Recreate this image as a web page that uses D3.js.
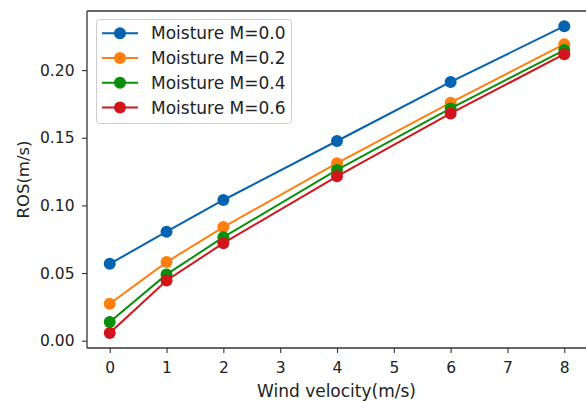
<!DOCTYPE html>
<html><head><meta charset="utf-8">
<script src="https://cdn.jsdelivr.net/npm/d3@7"></script>
<style>body{margin:0;background:#fff;}svg{display:block;font-family:"DejaVu Sans",sans-serif;}</style>
</head><body>
<svg id="c" width="586" height="401"></svg>
<script>
const windVelocity = [0, 1, 2, 4, 6, 8];
const seriesNames = ["Moisture M=0.0", "Moisture M=0.2", "Moisture M=0.4", "Moisture M=0.6"];
const rosM00 = [0.0568, 0.0806, 0.1040, 0.1476, 0.1913, 0.2325];
const rosM02 = [0.0273, 0.0581, 0.0840, 0.1312, 0.1759, 0.2192];
const rosM04 = [0.0138, 0.0490, 0.0765, 0.1262, 0.1717, 0.2148];
const rosM06 = [0.0057, 0.0445, 0.0721, 0.1215, 0.1680, 0.2118];
const xTicks = [0, 1, 2, 3, 4, 5, 6, 7, 8];
const yTicks = [0.00, 0.05, 0.10, 0.15, 0.20];
const colors = ["#0463ae", "#ff7f0e", "#0a8f0a", "#d2141c"];

const series = [rosM00, rosM02, rosM04, rosM06];
const svg = d3.select("#c");
const L = 87, R = 587, T = 11, B = 348;
const x = d3.scaleLinear().domain([-0.4, 8.4]).range([L, R]);
const y = d3.scaleLinear().domain([-0.0054, 0.2437]).range([B, T]);

const g = svg.append("g");
const line = d3.line().x((d,i)=>x(windVelocity[i])).y(d=>y(d));
series.forEach((s, k) => {
  g.append("path").datum(s).attr("d", line).attr("fill","none")
    .attr("stroke", colors[k]).attr("stroke-width", 2);
  g.selectAll(null).data(s).enter().append("circle")
    .attr("cx",(d,i)=>x(windVelocity[i])).attr("cy",d=>y(d)).attr("r",6)
    .attr("fill", colors[k]);
});

// spines (right spine falls outside the picture)
const ax = svg.append("g").attr("stroke","#333").attr("stroke-width",1.3).attr("fill","none");
ax.append("line").attr("x1",L).attr("x2",L).attr("y1",T).attr("y2",B);
ax.append("line").attr("x1",L).attr("x2",R).attr("y1",B).attr("y2",B);
ax.append("line").attr("x1",L).attr("x2",R).attr("y1",T).attr("y2",T);

const xAxis = svg.append("g").attr("transform",`translate(0,${B})`)
  .call(d3.axisBottom(x).tickValues(xTicks).tickFormat(d3.format("d")).tickSize(5).tickPadding(8.5));
const yAxis = svg.append("g").attr("transform",`translate(${L},0)`)
  .call(d3.axisLeft(y).tickValues(yTicks).tickFormat(d3.format(".2f")).tickSize(5).tickPadding(7.5));
[xAxis, yAxis].forEach(a => {
  a.select(".domain").remove();
  a.selectAll(".tick line").attr("stroke","#333").attr("stroke-width",1.1);
  a.selectAll(".tick text").attr("fill","#222").style("font-size","15.5px").style("font-family","DejaVu Sans");
});

svg.append("text").attr("x",336.5).attr("y",397).attr("text-anchor","middle")
  .style("font-size","17px").attr("fill","#222").text("Wind velocity(m/s)");
svg.append("text").attr("transform",`translate(29,${(T+B)/2}) rotate(-90)`).attr("text-anchor","middle")
  .style("font-size","16.5px").attr("fill","#222").text("ROS(m/s)");

// legend
const lg = svg.append("g");
lg.append("rect").attr("x",96.5).attr("y",19.5).attr("width",195).attr("height",104).attr("rx",3)
  .attr("fill","#fff").attr("fill-opacity",0.85).attr("stroke","#ccc").attr("stroke-width",1);
seriesNames.forEach((n,k)=>{
  const yy = 33.3 + k*24.7;
  lg.append("line").attr("x1",102).attr("x2",138).attr("y1",yy).attr("y2",yy).attr("stroke",colors[k]).attr("stroke-width",2);
  lg.append("circle").attr("cx",120).attr("cy",yy).attr("r",6).attr("fill",colors[k]);
  lg.append("text").attr("x",151).attr("y",yy).attr("dy","0.36em").style("font-size","17px").attr("fill","#222").text(n);
});
</script>
</body></html>
